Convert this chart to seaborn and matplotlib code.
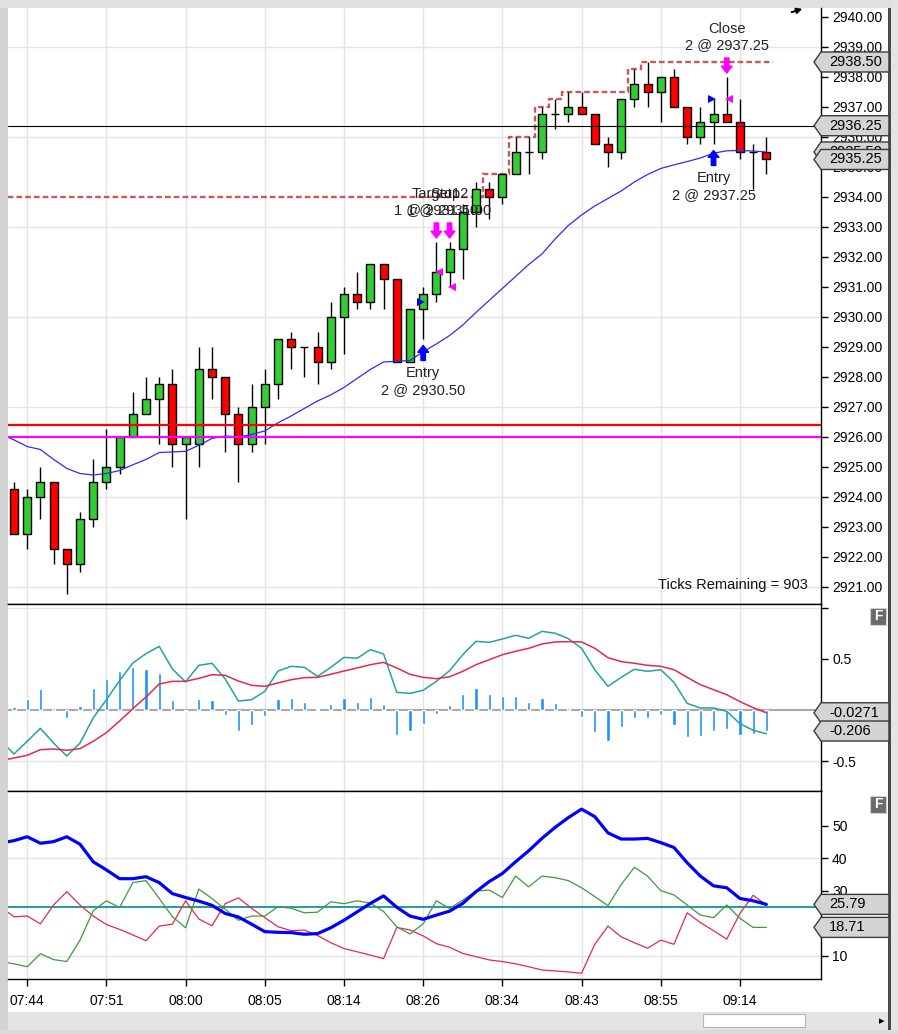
import numpy as np
import matplotlib
matplotlib.use("Agg")
import matplotlib.pyplot as plt
import seaborn as sns
from matplotlib.path import Path
from matplotlib.patches import Rectangle
from matplotlib.transforms import offset_copy

W, H = 898, 1034

# price bars (tick bars, 0.25 tick size)
opens = [2924.25, 2922.75, 2924.0, 2924.5, 2922.25, 2921.75, 2923.25, 2924.5, 2925.0, 2926.0,
         2926.75, 2927.25, 2927.75, 2925.75, 2925.75, 2928.25, 2928.0, 2926.75, 2925.75, 2927.0,
         2927.75, 2929.25, 2929.0, 2929.0, 2928.5, 2930.0, 2930.75, 2930.5, 2931.75, 2931.25,
         2928.5, 2930.25, 2930.75, 2931.5, 2932.25, 2933.5, 2934.25, 2934.0, 2934.75, 2935.5,
         2935.5, 2936.75, 2936.75, 2937.0, 2936.75, 2935.75, 2935.5, 2937.25, 2937.75, 2937.5,
         2938.0, 2937.0, 2936.0, 2936.5, 2936.75, 2936.5, 2935.5, 2935.5]
highs = [2924.5, 2924.25, 2925.0, 2924.5, 2922.25, 2923.5, 2925.25, 2926.25, 2926.0, 2927.5,
         2928.0, 2928.0, 2928.25, 2926.0, 2929.0, 2929.0, 2928.0, 2927.0, 2927.75, 2928.25,
         2929.25, 2929.5, 2929.0, 2929.5, 2930.5, 2931.0, 2931.5, 2931.75, 2931.75, 2931.25,
         2930.25, 2931.0, 2932.5, 2932.5, 2933.75, 2934.5, 2934.5, 2934.75, 2936.0, 2936.0,
         2937.0, 2937.25, 2937.5, 2937.5, 2936.75, 2936.0, 2937.25, 2938.25, 2938.5, 2938.0,
         2938.25, 2937.0, 2937.0, 2937.25, 2938.0, 2937.25, 2935.75, 2936.0]
lows = [2922.75, 2922.25, 2923.25, 2921.75, 2920.75, 2921.5, 2923.0, 2924.25, 2924.75, 2926.0,
        2926.75, 2925.75, 2925.0, 2923.25, 2925.0, 2927.25, 2925.5, 2924.5, 2925.5, 2925.75,
        2927.25, 2928.25, 2928.0, 2927.75, 2928.25, 2928.75, 2930.25, 2930.25, 2930.25, 2928.5,
        2928.5, 2929.25, 2930.5, 2931.0, 2931.25, 2933.0, 2933.25, 2933.75, 2934.75, 2934.75,
        2935.25, 2936.25, 2936.5, 2936.75, 2935.75, 2935.0, 2935.25, 2937.0, 2937.0, 2936.5,
        2937.0, 2935.75, 2935.75, 2935.75, 2936.5, 2935.25, 2934.25, 2934.75]
closes = [2922.75, 2924.0, 2924.5, 2922.25, 2921.75, 2923.25, 2924.5, 2925.0, 2926.0, 2926.75,
          2927.25, 2927.75, 2925.75, 2926.0, 2928.25, 2928.0, 2926.75, 2925.75, 2927.0, 2927.75,
          2929.25, 2929.0, 2929.0, 2928.5, 2930.0, 2930.75, 2930.5, 2931.75, 2931.25, 2928.5,
          2930.25, 2930.75, 2931.5, 2932.25, 2933.5, 2934.25, 2934.0, 2934.75, 2935.5, 2935.5,
          2936.75, 2936.75, 2937.0, 2936.75, 2935.75, 2935.5, 2937.25, 2937.75, 2937.5, 2938.0,
          2937.0, 2936.0, 2936.5, 2936.75, 2936.5, 2935.5, 2935.5, 2935.25]

# indicator lines start one bar before the first visible candle (bar -1)
ma_line = [2926.1, 2925.9, 2925.68, 2925.58, 2925.25, 2924.95, 2924.78, 2924.73, 2924.78, 2924.88,
           2925.07, 2925.25, 2925.48, 2925.5, 2925.52, 2925.72, 2925.95, 2926.03, 2926.0, 2926.08,
           2926.2, 2926.47, 2926.7, 2926.95, 2927.2, 2927.4, 2927.65, 2927.95, 2928.25, 2928.5,
           2928.52, 2928.55, 2928.84, 2929.1, 2929.38, 2929.73, 2930.15, 2930.55, 2930.95, 2931.35,
           2931.75, 2932.1, 2932.6, 2933.05, 2933.4, 2933.7, 2933.95, 2934.2, 2934.5, 2934.75,
           2934.95, 2935.07, 2935.18, 2935.3, 2935.46, 2935.54, 2935.55, 2935.53, 2935.5]
macd_line = [-0.30, -0.431, -0.307, -0.180, -0.324, -0.451, -0.324, -0.078, 0.101, 0.288,
             0.461, 0.552, 0.624, 0.402, 0.275, 0.438, 0.458, 0.304, 0.088, 0.101,
             0.183, 0.382, 0.428, 0.418, 0.330, 0.418, 0.516, 0.507, 0.592, 0.549,
             0.173, 0.163, 0.193, 0.281, 0.385, 0.542, 0.673, 0.663, 0.696, 0.732,
             0.703, 0.771, 0.752, 0.699, 0.605, 0.395, 0.232, 0.320, 0.399, 0.379,
             0.395, 0.271, 0.065, 0.020, 0.020, -0.013, -0.134, -0.199, -0.233]
macd_avg = [-0.495, -0.471, -0.444, -0.389, -0.382, -0.395, -0.379, -0.307, -0.222, -0.108,
            0.013, 0.127, 0.255, 0.281, 0.281, 0.310, 0.346, 0.340, 0.284, 0.242,
            0.232, 0.265, 0.297, 0.317, 0.320, 0.350, 0.382, 0.412, 0.444, 0.467,
            0.412, 0.350, 0.320, 0.307, 0.326, 0.379, 0.444, 0.493, 0.542, 0.575,
            0.605, 0.647, 0.667, 0.670, 0.667, 0.605, 0.513, 0.474, 0.458, 0.438,
            0.428, 0.395, 0.320, 0.248, 0.199, 0.150, 0.082, 0.023, -0.0271]
# histogram starts at bar 0
macd_diff = [0.033, 0.111, 0.203, 0.023, -0.075, 0.042, 0.219, 0.307, 0.386, 0.425,
             0.405, 0.366, 0.101, -0.013, 0.111, 0.101, -0.046, -0.203, -0.144, -0.056,
             0.111, 0.121, 0.082, 0.005, 0.062, 0.121, 0.082, 0.131, 0.062, -0.242,
             -0.203, -0.134, -0.036, 0.052, 0.160, 0.219, 0.160, 0.141, 0.141, 0.082,
             0.121, 0.072, 0.023, -0.065, -0.212, -0.301, -0.163, -0.075, -0.075, -0.046,
             -0.144, -0.261, -0.252, -0.203, -0.183, -0.242, -0.232, -0.206]
adx_line = [44.7, 45.4, 46.6, 44.6, 45.1, 46.6, 44.3, 38.9, 36.4, 33.7,
            33.7, 34.3, 32.5, 29.1, 27.9, 26.8, 25.5, 23.0, 21.9, 19.7,
            17.4, 17.2, 17.1, 16.6, 16.8, 18.6, 20.9, 23.5, 26.1, 28.4,
            24.9, 22.2, 21.2, 22.5, 23.7, 26.1, 29.7, 32.8, 35.3, 38.9,
            42.3, 46.1, 49.5, 52.5, 55.1, 52.8, 47.8, 45.9, 45.9, 46.1,
            44.8, 43.3, 38.6, 34.5, 31.5, 30.9, 27.6, 26.9, 25.79]
di_plus = [8.2, 7.5, 6.6, 10.6, 8.8, 8.2, 14.8, 23.8, 26.9, 24.8,
           32.5, 33.1, 27.6, 22.0, 18.6, 30.5, 27.6, 24.3, 20.9, 22.2,
           22.2, 25.1, 24.6, 23.2, 23.4, 26.6, 26.0, 26.9, 26.2, 23.6,
           18.9, 16.7, 19.8, 26.9, 24.5, 27.1, 29.9, 30.2, 27.9, 34.5,
           31.2, 34.5, 34.0, 33.1, 30.9, 28.2, 25.4, 31.9, 37.2, 34.5,
           30.0, 28.7, 25.6, 22.5, 21.7, 25.6, 21.5, 18.7, 18.71]
di_minus = [25.0, 22.0, 22.2, 19.8, 25.6, 29.7, 25.6, 22.2, 19.6, 18.1,
            16.4, 14.6, 19.1, 19.7, 26.9, 21.3, 19.2, 26.0, 27.8, 24.6,
            21.7, 18.9, 17.7, 17.9, 16.2, 14.0, 12.2, 11.2, 10.2, 9.1,
            18.7, 17.9, 16.1, 13.7, 12.6, 10.7, 9.7, 8.7, 8.2, 7.5,
            6.6, 5.6, 5.3, 5.0, 4.6, 13.5, 19.1, 15.8, 14.0, 12.3,
            14.8, 13.5, 23.2, 20.2, 17.7, 15.1, 23.0, 28.6, 25.6]

time_ticks = [1, 7, 13, 19, 25, 31, 37, 43, 49, 55]
time_labels = ["07:44", "07:51", "08:00", "08:05", "08:14", "08:26", "08:34", "08:43", "08:55", "09:14"]

# trailing stop: bar where each level starts, and its price
stop_from_bar = [-1, 36, 38, 40, 41, 42, 47, 48]
stop_price = [2934.0, 2934.75, 2936.0, 2937.0, 2937.25, 2937.5, 2938.25, 2938.5]

red_level = 2926.4
magenta_level = 2926.0
black_level = 2936.375
adx_level = 25

entry_bar = [31, 53]
entry_price = [2930.50, 2937.25]
entry_qty = [2, 2]
exit_bar = [32, 33, 54]
exit_price = [2931.50, 2931.00, 2937.25]
exit_qty = [1, 1, 2]
exit_name = ["Target1", "Stop2", "Close"]
ticks_remaining = 903

sns.set_style("white")
plt.rcParams["font.family"] = ["Liberation Sans", "DejaVu Sans"]

bars = np.arange(len(opens))
line_idx = np.arange(-1, len(opens))
o, h, l, c = (np.array(v) for v in (opens, highs, lows, closes))


def px_rect(x0, y0, x1, y1):
    return [x0 / W, 1 - y1 / H, (x1 - x0) / W, (y1 - y0) / H]


def tag_box(x0, y0, width, height, mutation_size):
    # grey price marker with a point on the left, fixed width
    cy = y0 + height / 2.0
    left = x0 - 8
    return Path([(left - 7, cy), (left, cy - 10), (left + 68, cy - 10),
                 (left + 68, cy + 10), (left, cy + 10), (left - 7, cy)], closed=True)


def add_tag(ax, value, label):
    ax.text(1.0098, value, label, transform=ax.get_yaxis_transform(), ha="left", va="center",
            fontsize=10.5, color="black", clip_on=False, zorder=20,
            bbox=dict(boxstyle=tag_box, fc="#d4d4d4", ec="#3a3a3a", lw=1))


fig = plt.figure(figsize=(W / 100, H / 100), dpi=100)
fig.patch.set_facecolor("white")

ax_p = fig.add_axes(px_rect(8, 8, 821, 604))
ax_m = fig.add_axes(px_rect(8, 604, 821, 791))
ax_a = fig.add_axes(px_rect(8, 791, 821, 979))
axes = [ax_p, ax_m, ax_a]

for ax in axes:
    for t in time_ticks:
        ax.axvline(t, color="#e3e3e3", lw=1, zorder=0)
    ax.spines["left"].set_visible(False)
    for side in ("right", "top", "bottom"):
        ax.spines[side].set_color("black")
        ax.spines[side].set_linewidth(1)
    ax.yaxis.tick_right()
    ax.tick_params(axis="y", direction="out", length=5, width=1, colors="black",
                   labelsize=10, pad=3, left=False, labelleft=False, right=True, labelright=True)
ax_p.spines["top"].set_visible(False)

# ---- price panel ----
for g in np.arange(2921, 2941, 3):
    ax_p.axhline(g, color="#e3e3e3", lw=1, zorder=0)

edges = np.append(np.array(stop_from_bar) - 0.5, bars[-1] + 0.5)
ax_p.stairs(stop_price, edges, baseline=None, color="#c55a5a", lw=1.7,
            linestyle=(0, (2.4, 1.3)), zorder=2)

ax_p.vlines(bars, l, h, color="black", lw=1, zorder=3)
ax_p.bar(bars, np.abs(c - o), bottom=np.minimum(o, c), width=0.6,
         color=np.where(c >= o, "#33cc33", "#ff0000"), edgecolor="black", linewidth=1, zorder=4)

sns.lineplot(x=line_idx, y=ma_line, ax=ax_p, color="#2b2bff", lw=0.9, zorder=5)

ax_p.axhline(red_level, color="#ff0000", lw=1.6, zorder=6)
ax_p.axhline(magenta_level, color="#ff00ff", lw=1.6, zorder=6)
ax_p.axhline(black_level, color="black", lw=0.8, zorder=6)

arrow_style = "simple,head_length=0.7,head_width=1.1,tail_width=0.45"
for b, p, q in zip(entry_bar, entry_price, entry_qty):
    ax_p.annotate("", xy=(b, l[b]), xycoords=offset_copy(ax_p.transData, fig=fig, y=-6, units="dots"),
                  xytext=(b, l[b]), textcoords=offset_copy(ax_p.transData, fig=fig, y=-21, units="dots"),
                  arrowprops=dict(arrowstyle=arrow_style, color="#0000ff", shrinkA=0, shrinkB=0,
                                  mutation_scale=7), zorder=8)
    ax_p.text(b, l[b], f"Entry\n{q} @ {p:.2f}", ha="center", va="top", fontsize=10.5, color="#222222",
              transform=offset_copy(ax_p.transData, fig=fig, y=-27, units="dots"), zorder=8)
    ax_p.plot(b - 0.15, p, marker=">", color="#0000ff", ms=6, mew=0, zorder=8)

for b, p, q, name in zip(exit_bar, exit_price, exit_qty, exit_name):
    ax_p.annotate("", xy=(b, h[b]), xycoords=offset_copy(ax_p.transData, fig=fig, y=4, units="dots"),
                  xytext=(b, h[b]), textcoords=offset_copy(ax_p.transData, fig=fig, y=19, units="dots"),
                  arrowprops=dict(arrowstyle=arrow_style, color="#ff00ff", shrinkA=0, shrinkB=0,
                                  mutation_scale=7), zorder=8)
    ax_p.text(b, h[b], f"{name}\n{q} @ {p:.2f}", ha="center", va="bottom", fontsize=10.5, color="#222222",
              transform=offset_copy(ax_p.transData, fig=fig, y=25, units="dots"), zorder=8)
    ax_p.plot(b + 0.2, p, marker="<", color="#ff00ff", ms=6, mew=0, zorder=8)

ax_p.text(0.984, 0.032, f"Ticks Remaining = {ticks_remaining}", transform=ax_p.transAxes,
          ha="right", va="center", fontsize=10.5, color="#111111")

price_ticks = np.arange(2921, 2941)
ax_p.set_yticks(price_ticks, [f"{t:.2f}" for t in price_ticks])
ax_p.set_ylim(2920.43, 2940.3)

add_tag(ax_p, ma_line[-1], f"{ma_line[-1]:.2f}")
add_tag(ax_p, stop_price[-1], f"{stop_price[-1]:.2f}")
add_tag(ax_p, black_level, f"{np.floor(black_level * 4) / 4:.2f}")
add_tag(ax_p, closes[-1], f"{closes[-1]:.2f}")

# ---- MACD panel ----
for g in (1.0, -0.5):
    ax_m.axhline(g, color="#e3e3e3", lw=1, zorder=0)
ax_m.axhline(0, color="#a8a8a8", lw=1.5, zorder=1)
ax_m.bar(bars, macd_diff, width=0.24, color="#1e90ff", zorder=2)
sns.lineplot(x=line_idx, y=macd_line, ax=ax_m, color="#22a39f", lw=1.1, zorder=3)
sns.lineplot(x=line_idx, y=macd_avg, ax=ax_m, color="#e6284f", lw=1.1, zorder=3)
ax_m.set_yticks([-0.5, 0.5, 1.0], ["-0.5", "0.5", ""])
ax_m.set_ylim(-0.794, 1.039)
add_tag(ax_m, macd_avg[-1], f"{macd_avg[-1]:.3g}")
add_tag(ax_m, macd_diff[-1], f"{macd_diff[-1]:.3g}")

# ---- ADX / DMI panel ----
for g in (10, 40):
    ax_a.axhline(g, color="#e3e3e3", lw=1, zorder=0)
ax_a.axhline(adx_level, color="#008b8b", lw=1.2, zorder=1)
sns.lineplot(x=line_idx, y=di_minus, ax=ax_a, color="#e6284f", lw=0.9, zorder=3)
sns.lineplot(x=line_idx, y=di_plus, ax=ax_a, color="#3c9a3c", lw=0.9, zorder=3)
sns.lineplot(x=line_idx, y=adx_line, ax=ax_a, color="#0000ff", lw=2.3, zorder=4)
ax_a.set_yticks([10, 20, 30, 40, 50])
ax_a.set_ylim(2.83, 60.68)
add_tag(ax_a, adx_line[-1], f"{adx_line[-1]:.2f}")
add_tag(ax_a, di_plus[-1], f"{di_plus[-1]:.2f}")

for ax in axes:
    ax.set_xlim(-0.455, 61.14)
    ax.set_xlabel("")
    ax.set_ylabel("")
ax_p.set_xticks([])
ax_m.set_xticks([])
ax_a.set_xticks(time_ticks, time_labels)
ax_a.tick_params(axis="x", direction="out", length=5, width=1, colors="black",
                 labelsize=10, pad=6, bottom=True)

# window frame, scrollbar and panel buttons
for x0, y0, x1, y1, col in [(0, 0, 8, H, "#d3d3d3"), (0, 0, W, 8, "#e0e0e0"),
                            (891, 0, W, H, "#e4e4e4"), (0, 1030, W, H, "#dadada"),
                            (8, 1012, 888, 1030, "#e4e4e4"), (888, 8, 891, 1030, "#4a4a4a")]:
    fig.patches.append(Rectangle((x0 / W, 1 - y1 / H), (x1 - x0) / W, (y1 - y0) / H,
                                 transform=fig.transFigure, fc=col, ec="none", zorder=-1))
fig.patches.append(Rectangle((703 / W, 1 - 1027 / H), 102 / W, 13 / H, transform=fig.transFigure,
                             fc="white", ec="#b5b5b5", lw=0.8))
fig.text(882 / W, 1 - 1021 / H, "▸", ha="center", va="center", fontsize=8, color="black")
for ytop in (608, 796):
    fig.patches.append(Rectangle((870 / W, 1 - (ytop + 17) / H), 16 / W, 17 / H,
                                 transform=fig.transFigure, fc="#6b6b6b", ec="#d0d0d0", lw=0.8))
    fig.text(878 / W, 1 - (ytop + 8.5) / H, "F", ha="center", va="center", fontsize=10,
             fontweight="bold", color="white")
ax_p.annotate("", xy=(805 / W, 1 - 8 / H), xycoords="figure fraction",
              xytext=(789 / W, 1 - 13 / H), textcoords="figure fraction",
              arrowprops=dict(arrowstyle="-|>", color="black", lw=1.4, mutation_scale=8))

fig.savefig("out.png", dpi=100)
